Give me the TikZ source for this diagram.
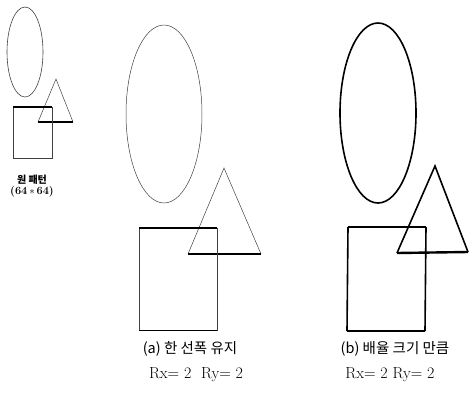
\documentclass[tikz,border=0pt]{standalone}
\usepackage{fontspec}
\newfontfamily\kr{Noto Sans CJK KR}
\begin{document}
\begin{tikzpicture}[x=1pt,y=-1pt,
  thinln/.style={draw=black!75,line width=0.5pt},
  thickln/.style={draw=black,line width=1.6pt},
  medln/.style={draw=black,line width=1.1pt},
  heavyln/.style={draw=black,line width=2.4pt},
  lbl/.style={inner sep=0pt,font=\kr\fontsize{14.5}{16}\selectfont},
  rlbl/.style={inner sep=0pt,font=\fontsize{16}{18}\selectfont}]
\useasboundingbox (0,0) rectangle (469,397);
% original pattern
\draw[thinln,line width=0.6pt] (25,52) ellipse [x radius=18,y radius=45];
\coordinate (oa) at (56,79); \coordinate (ob) at (38,122); \coordinate (oc) at (73,122);
\draw[thinln,line width=0.5pt] (ob) -- (oa) -- (oc);
\draw[medln] (ob) -- (oc);
\coordinate (os1) at (13,107); \coordinate (os2) at (52,107);
\coordinate (os3) at (52,158); \coordinate (os4) at (13,158);
\draw[thinln,line width=0.8pt] (os2) -- (os3) -- (os4) -- (os1);
\draw[medln] (os1) -- (os2);
\node[inner sep=0pt,font=\kr\bfseries\fontsize{10}{11}\selectfont] (ot) at (32,180) {원 패턴};
\node[inner sep=0pt,font=\bfseries\fontsize{11}{12}\selectfont] (on) at (32,192) {(64\,$\ast$\,64)};
% (a)
\draw[thinln] (164,114) ellipse [x radius=38,y radius=89];
\coordinate (aa) at (224,168); \coordinate (ab) at (188,254); \coordinate (ac) at (261,254);
\draw[thinln] (ab) -- (aa) -- (ac);
\draw[medln] (ab) -- (ac);
\coordinate (as1) at (139,228); \coordinate (as2) at (217,228);
\coordinate (as3) at (217,330); \coordinate (as4) at (139,330);
\draw[thinln] (as2) -- (as3) -- (as4) -- (as1);
\draw[medln] (as1) -- (as2);
\draw[medln,line width=0.8pt] (as3) -- (as4);
% (b)
\draw[thickln] (378,113) ellipse [x radius=38,y radius=90];
\coordinate (ba) at (435,166); \coordinate (bb) at (397,253); \coordinate (bc) at (468,252);
\draw[thickln,line join=miter] (bb) -- (ba) -- (bc);
\draw[heavyln] (bb) -- (bc);
\coordinate (bs1) at (348,227); \coordinate (bs2) at (426,227);
\coordinate (bs3) at (425,331); \coordinate (bs4) at (347,331);
\draw[thickln] (bs2) -- (bs3) (bs4) -- (bs1);
\draw[heavyln] (bs1) -- (bs2) (bs3) -- (bs4);
% labels
\node[lbl] (la) at (190,349) {(a) 한 선폭 유지};
\node[rlbl] (ra) at (196,375) {Rx= 2\ \ Ry= 2};
\node[lbl] (lb) at (395,349) {(b) 배율 크기 만큼};
\node[rlbl] (rb) at (390,375) {Rx= 2 Ry= 2};
\end{tikzpicture}
\end{document}
